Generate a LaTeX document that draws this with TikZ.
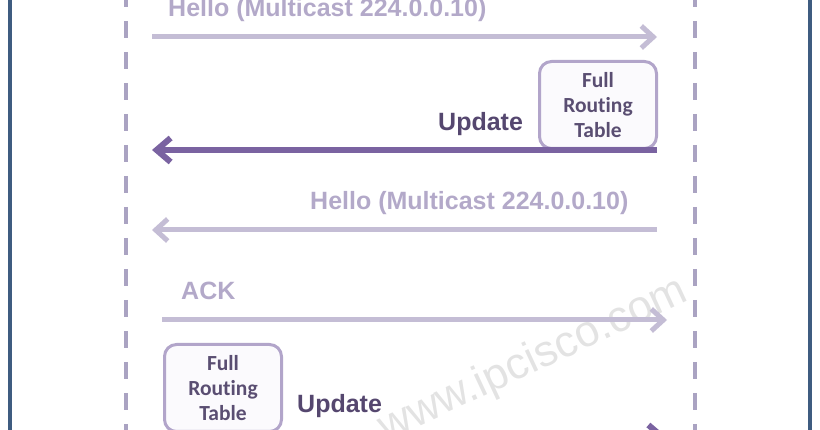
\documentclass[tikz,border=0pt]{standalone}
\usepackage{fontspec}
\setmainfont{Liberation Sans}
\newfontfamily\boxfont{Carlito}[Ligatures={NoCommon}]
\usetikzlibrary{arrows.meta}

\definecolor{frameblue}{HTML}{3F5C80}
\definecolor{lifeline}{HTML}{AAA3C2}
\definecolor{hellogrey}{HTML}{C4BDD5}
\definecolor{hellotext}{HTML}{B3A9C9}
\definecolor{updatepurple}{HTML}{7A63A1}
\definecolor{updatetext}{HTML}{55476F}
\definecolor{tableedge}{HTML}{B2A5CA}
\definecolor{tablefill}{HTML}{FBFAFD}
\definecolor{tabletext}{HTML}{5A4E72}

\tikzset{
    hello/.style={line width=5pt, color=hellogrey, -{Straight Barb[length=12pt,width=22pt]}},
    update/.style={line width=6pt, color=updatepurple, -{Straight Barb[length=14pt,width=24pt]}},
    lbl/.style={font=\fontsize{25}{30}\selectfont\bfseries, anchor=base west, inner sep=0pt},
    tablebox/.style={draw=tableedge, line width=3pt, fill=tablefill, rounded corners=12pt,
        minimum width=117pt, minimum height=87pt, align=center, text=tabletext,
        font=\boxfont\fontsize{21.5}{25}\selectfont\bfseries}
}

\begin{document}
\begin{tikzpicture}[x=1pt, y=-1pt]
        \useasboundingbox (0,0) rectangle (820,430);
        \clip (0,0) rectangle (820,430);
        % watermark
        \node[rotate=25, anchor=base east, inner sep=0pt, text=black!11,
            font=\fontsize{44}{44}\selectfont] (mark) at (690,300) {www.ipcisco.com};
        % frame and lifelines
        \coordinate (fl1) at (10,-5);
        \coordinate (fl2) at (10,440);
        \coordinate (fr1) at (810,-5);
        \coordinate (fr2) at (810,440);
        \coordinate (ltop) at (126,-10);
        \coordinate (lbot) at (126,440);
        \coordinate (rtop) at (695,-10);
        \coordinate (rbot) at (695,440);
        \draw[line width=4pt, frameblue] (fl1) -- (fl2);
        \draw[line width=4pt, frameblue] (fr1) -- (fr2);
        \draw[line width=4pt, lifeline, dash pattern=on 17pt off 14pt] (ltop) -- (lbot);
        \draw[line width=4pt, lifeline, dash pattern=on 17pt off 14pt] (rtop) -- (rbot);
        % message ends
        \coordinate (h1a) at (152,37);
        \coordinate (h1b) at (657,37);
        \coordinate (u1a) at (657,150);
        \coordinate (u1b) at (152,150);
        \coordinate (h2a) at (657,230);
        \coordinate (h2b) at (152,230);
        \coordinate (acka) at (162,320);
        \coordinate (ackb) at (667,320);
        \coordinate (u2a) at (163,437);
        \coordinate (u2b) at (667,437);
        % messages
        \draw[hello] (h1a) -- (h1b);
        \node[lbl, text=hellotext] (hello1) at (168,17) {Hello (Multicast 224.0.0.10)};
        \node[tablebox] (table1) at (598,105) {Full\\Routing\\Table};
        \draw[update] (u1a) -- (u1b);
        \node[lbl, text=updatetext] (upd1) at (438,131) {Update};
        \draw[hello] (h2a) -- (h2b);
        \node[lbl, text=hellotext] (hello2) at (310,210) {Hello (Multicast 224.0.0.10)};
        \draw[hello] (acka) -- (ackb);
        \node[lbl, text=hellotext] (ack) at (181,300) {ACK};
        \node[tablebox] (table2) at (223,388) {Full\\Routing\\Table};
        \draw[update] (u2a) -- (u2b);
        \node[lbl, text=updatetext] (upd2) at (297,413) {Update};
\end{tikzpicture}
\end{document}
